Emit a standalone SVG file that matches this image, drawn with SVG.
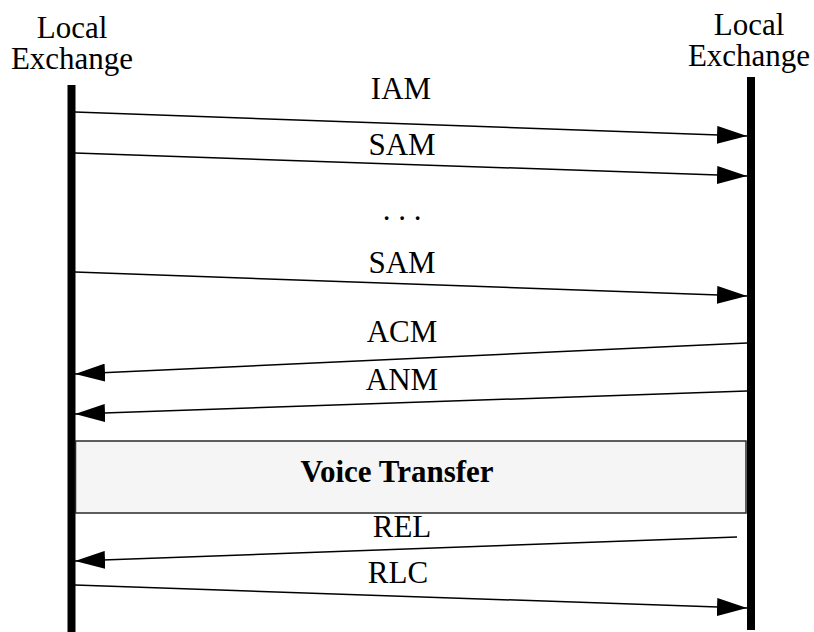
<svg xmlns="http://www.w3.org/2000/svg" width="814" height="632" viewBox="0 0 814 632">
  <style>
    .lbl { font-family: "Liberation Serif", "Times New Roman", serif; font-size: 31px; fill: #000; text-anchor: middle; }
    .bold { font-weight: bold; }
    .msg { stroke: #000; stroke-width: 1.5; fill: none; marker-end: url(#ah); }
    .msg-plain { stroke: #000; stroke-width: 1.5; fill: none; }
    .life { fill: #000; }
    .phase { fill: #f5f5f5; stroke: #2a2a2a; stroke-width: 1.5; }
  </style>
  <defs>
    <marker id="ah" markerUnits="userSpaceOnUse" markerWidth="30" markerHeight="18" viewBox="0 0 30 18" refX="30" refY="9" orient="auto">
      <path d="M0,0 L30,9 L0,18 z" fill="#000"/>
    </marker>
  </defs>
  <rect width="814" height="632" fill="#fff"/>

  <!-- originating exchange -->
  <g id="exchange-left">
    <text class="lbl" x="72" y="38">Local</text>
    <text class="lbl" x="72" y="69">Exchange</text>
    <rect class="life" x="67.5" y="85" width="8" height="547"/>
  </g>

  <!-- terminating exchange -->
  <g id="exchange-right">
    <text class="lbl" x="749" y="35">Local</text>
    <text class="lbl" x="749" y="66">Exchange</text>
    <rect class="life" x="747" y="77" width="8" height="553"/>
  </g>

  <!-- conversation phase -->
  <g id="voice-transfer">
    <rect class="phase" x="75.5" y="441" width="670.5" height="72"/>
    <text class="lbl bold" x="397" y="482">Voice Transfer</text>
  </g>

  <!-- signalling messages -->
  <g id="connectors">
    <line class="msg" x1="75" y1="112" x2="747" y2="136"/>
    <line class="msg" x1="75" y1="153" x2="747" y2="176"/>
    <line class="msg" x1="75" y1="272" x2="747" y2="296"/>
    <line class="msg" x1="747" y1="343" x2="75" y2="374"/>
    <line class="msg" x1="747" y1="391" x2="75" y2="414"/>
    <line class="msg" x1="737" y1="537" x2="75" y2="561"/>
    <line class="msg" x1="75" y1="585" x2="747" y2="608"/>
  </g>

  <g id="labels">
    <text class="lbl" x="401" y="99">IAM</text>
    <text class="lbl" x="402" y="155">SAM</text>
    <text class="lbl" x="402" y="220">. . .</text>
    <text class="lbl" x="402" y="273">SAM</text>
    <text class="lbl" x="402" y="342">ACM</text>
    <text class="lbl" x="402" y="390">ANM</text>
    <text class="lbl" x="402" y="537">REL</text>
    <text class="lbl" x="398" y="583">RLC</text>
  </g>
</svg>
